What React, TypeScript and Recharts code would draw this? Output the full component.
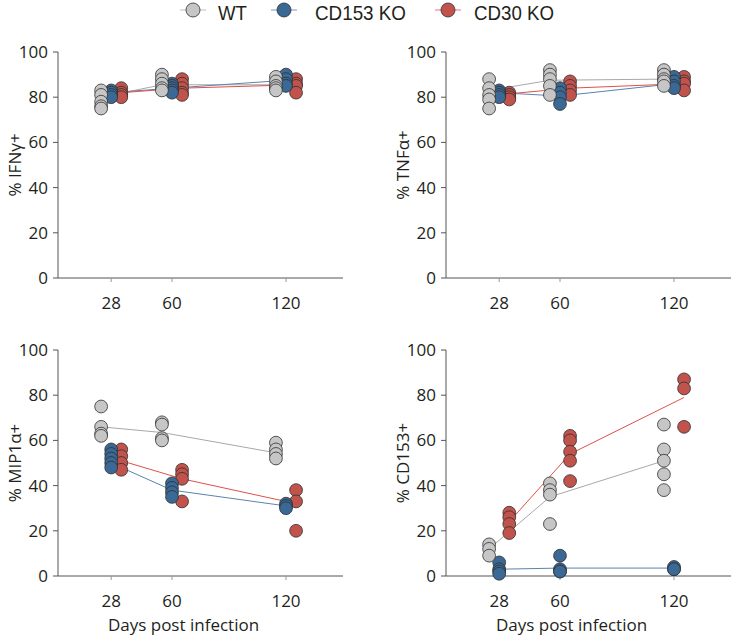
import React from 'react';
import { ComposedChart, Scatter, XAxis, YAxis } from 'recharts';

const DAYS = [28, 60, 120];
const Y_TICKS = [0, 20, 40, 60, 80, 100];
const GROUPS = ['WT', 'CD153 KO', 'CD30 KO'];

// % IFNγ+
const ifnWT = [[83, 81, 78, 76, 75], [90, 88, 86, 84, 83], [89, 87, 85, 84, 83]];
const ifnCD153 = [[83, 82, 81, 80], [86, 85, 84, 83, 82], [90, 88, 86, 85]];
const ifnCD30 = [[84, 82, 81, 80], [88, 86, 84, 82, 81], [88, 86, 85, 82]];
const ifnMeanWT = [80, 85.5, 85.5];
const ifnMeanCD153 = [82, 84, 87.5];
const ifnMeanCD30 = [82, 84, 85.5];

// % TNFα+
const tnfWT = [[88, 84, 81, 79, 75], [92, 90, 88, 85, 81], [92, 90, 88, 87, 85]];
const tnfCD153 = [[83, 82, 81, 80], [84, 82, 80, 77], [89, 87, 85, 84]];
const tnfCD30 = [[82, 81, 80, 79], [87, 85, 83, 81], [89, 87, 86, 83]];
const tnfMeanWT = [83, 87.5, 88];
const tnfMeanCD153 = [82, 80.5, 86];
const tnfMeanCD30 = [81.5, 84, 86];

// % MIP1α+
const mipWT = [[75, 66, 63, 62], [68, 67, 61, 60], [59, 56, 54, 52]];
const mipCD153 = [[56, 54, 52, 50, 48], [41, 39, 37, 35], [32, 31, 30]];
const mipCD30 = [[56, 53, 50, 47], [47, 45, 43, 33], [38, 33, 20]];
const mipMeanWT = [66, 63.5, 54.5];
const mipMeanCD153 = [50, 38, 31];
const mipMeanCD30 = [51, 43, 32];

// % CD153+
const cdWT = [[14, 12, 9], [41, 38, 36, 23], [67, 56, 51, 45, 38]];
const cdCD153 = [[6, 3, 2, 1], [9, 3, 2, 2], [4, 3, 3]];
const cdCD30 = [[28, 26, 23, 19], [62, 60, 55, 51, 42], [87, 83, 66]];
const cdMeanWT = [12, 35, 51];
const cdMeanCD153 = [3, 3.5, 3.5];
const cdMeanCD30 = [24, 54, 79];

const FILL = ['#c6c6c6', '#3b6996', '#c1534d'];
const LINE = ['#a8a8a8', '#5a84ad', '#e0504b'];
const LEG_LINE = ['#d4d4d4', '#a9bccf', '#eaa5a2'];
const OFFSET = [-5.3, 0, 5.3];
const FONT = '"Open Sans", "Noto Sans", sans-serif';
const TXT = '#231f20';

const toPoints = (vals: number[][], off: number) =>
  DAYS.flatMap((d, i) => vals[i].map((v) => ({ x: d + off, y: v })));
const toMeans = (vals: number[], off: number) => DAYS.map((d, i) => ({ x: d + off, y: vals[i] }));

const dot = (fill: string) => (p: any) => (
  <circle cx={p.cx} cy={p.cy} r={6.4} fill={fill} stroke="#2e2e2e" strokeWidth={0.8} />
);
const noDot = () => <g />;

type PanelProps = {
  x: number;
  y: number;
  yLabel: string;
  xLabel: boolean;
  pts: number[][][];
  means: number[][];
};

function Panel({ x, y, yLabel, xLabel, pts, means }: PanelProps) {
  const order = [2, 1, 0];
  return (
    <div style={{ position: 'absolute', left: x, top: y }}>
      <ComposedChart width={343} height={348} margin={{ top: 52, right: 0, bottom: 10, left: 8 }}>
        <XAxis
          type="number"
          dataKey="x"
          domain={[0, 150]}
          ticks={DAYS}
          allowDataOverflow
          height={60}
          tickSize={4}
          tickMargin={15}
          axisLine={{ stroke: '#555', strokeWidth: 1 }}
          tickLine={{ stroke: '#999' }}
          tick={{ fontSize: 17, fill: TXT, fontFamily: FONT }}
          label={
            xLabel
              ? {
                  content: (lp: any) => {
                    const vb = lp.viewBox || {};
                    return (
                      <text
                        x={vb.x + vb.width / 2 - 17}
                        y={vb.y + 55}
                        textAnchor="middle"
                        fontSize={17}
                        fill={TXT}
                        fontFamily={FONT}
                      >
                        Days post infection
                      </text>
                    );
                  },
                }
              : undefined
          }
        />
        <YAxis
          type="number"
          dataKey="y"
          domain={[0, 100]}
          ticks={Y_TICKS}
          width={50}
          tickSize={5}
          tickMargin={5}
          axisLine={{ stroke: '#555', strokeWidth: 1 }}
          tickLine={{ stroke: '#555' }}
          tick={{ fontSize: 17, fill: TXT, fontFamily: FONT }}
          label={{
            content: (lp: any) => {
              const vb = lp.viewBox || {};
              const cx = vb.x + 6;
              const cy = vb.y + vb.height / 2;
              return (
                <text
                  x={cx}
                  y={cy}
                  transform={`rotate(-90, ${cx}, ${cy})`}
                  textAnchor="middle"
                  dominantBaseline="central"
                  fontSize={17}
                  fill={TXT}
                  fontFamily={FONT}
                >
                  {yLabel}
                </text>
              );
            },
          }}
        />
        {[0, 1, 2].map((g) => (
          <Scatter
            key={'m' + g}
            name={GROUPS[g] + ' mean'}
            data={toMeans(means[g], OFFSET[g])}
            line={{ stroke: LINE[g], strokeWidth: 1 }}
            shape={noDot}
            isAnimationActive={false}
          />
        ))}
        {order.map((g) => (
          <Scatter
            key={'p' + g}
            name={GROUPS[g]}
            data={toPoints(pts[g], OFFSET[g])}
            shape={dot(FILL[g])}
            isAnimationActive={false}
          />
        ))}
      </ComposedChart>
    </div>
  );
}

function Legend() {
  const items = [
    { cx: 193, tx: 218, len: 29 },
    { cx: 284, tx: 315, len: 91 },
    { cx: 448, tx: 474, len: 80 },
  ];
  return (
    <svg width={731} height={28} style={{ position: 'absolute', left: 0, top: 0 }}>
      {items.map((it, g) => (
        <g key={g}>
          <line x1={it.cx - 13} x2={it.cx + 13} y1={10} y2={10} stroke={LEG_LINE[g]} strokeWidth={1.5} />
          <circle cx={it.cx} cy={10} r={7} fill={FILL[g]} stroke="#2e2e2e" strokeWidth={0.8} />
          <text
            x={it.tx}
            y={20}
            fontSize={21}
            fill={TXT}
            fontFamily='"Liberation Sans Narrow", "Liberation Sans", Arial, sans-serif'
            textLength={it.len}
            lengthAdjust="spacingAndGlyphs"
          >
            {GROUPS[g]}
          </text>
        </g>
      ))}
    </svg>
  );
}

export default function App() {
  return (
    <div style={{ position: 'absolute', left: 0, top: 0, width: 731, height: 644, background: '#fff', overflow: 'hidden' }}>
      <Legend />
      <Panel
        x={0}
        y={0}
        yLabel="% IFNγ+"
        xLabel={false}
        pts={[ifnWT, ifnCD153, ifnCD30]}
        means={[ifnMeanWT, ifnMeanCD153, ifnMeanCD30]}
      />
      <Panel
        x={388}
        y={0}
        yLabel="% TNFα+"
        xLabel={false}
        pts={[tnfWT, tnfCD153, tnfCD30]}
        means={[tnfMeanWT, tnfMeanCD153, tnfMeanCD30]}
      />
      <Panel
        x={0}
        y={298}
        yLabel="% MIP1α+"
        xLabel={true}
        pts={[mipWT, mipCD153, mipCD30]}
        means={[mipMeanWT, mipMeanCD153, mipMeanCD30]}
      />
      <Panel
        x={388}
        y={298}
        yLabel="% CD153+"
        xLabel={true}
        pts={[cdWT, cdCD153, cdCD30]}
        means={[cdMeanWT, cdMeanCD153, cdMeanCD30]}
      />
    </div>
  );
}
